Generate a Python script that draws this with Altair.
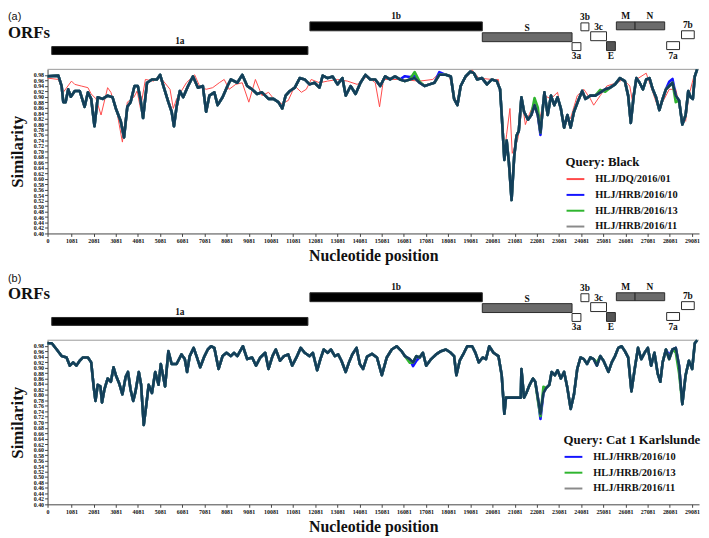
import altair as alt
import pandas as pd

# ---------------- data ----------------
X_MAX = 29400
X_TICKS = [0, 1081, 2081, 3081, 4081, 5081, 6081, 7081, 8081, 9081, 10081, 11081,
           12081, 13081, 14081, 15081, 16081, 17081, 18081, 19081, 20081, 21081,
           22081, 23081, 24081, 25081, 26081, 27081, 28081, 29081]
Y_TICKS = [0.40, 0.42, 0.44, 0.46, 0.48, 0.50, 0.52, 0.54, 0.56, 0.58, 0.60, 0.62,
           0.64, 0.66, 0.68, 0.70, 0.72, 0.74, 0.76, 0.78, 0.80, 0.82, 0.84, 0.86,
           0.88, 0.90, 0.92, 0.94, 0.96, 0.98]

ORF_NAMES = ["1a", "1b", "S", "3a", "3b", "3c", "E", "M", "N", "7a", "7b"]
ORF_START = [190, 11840, 19620, 23670, 24070, 24510, 25225, 25670, 26515, 27940, 28610]
ORF_END = [11750, 19620, 23670, 24070, 24430, 25225, 25625, 26515, 27850, 28520, 29185]

# panel (a) : query Black
A_POS = [0, 488, 636, 710, 814, 933, 1051, 1229, 1451, 1674, 1822, 1970, 2118, 2266, 2489,
         2711, 2933, 3082, 3304, 3452, 3600, 3748, 3926, 4074, 4193, 4311, 4489, 4712, 4934,
         5082, 5230, 5453, 5601, 5705, 5823, 5971, 6120, 6342, 6564, 6787, 7009, 7157, 7305,
         7527, 7676, 7898, 8120, 8269, 8565, 8787, 9010, 9232, 9454, 9676, 9973, 10195, 10417,
         10595, 10744, 10936, 11159, 11381, 11603, 11825, 12048, 12270, 12418, 12640, 12863,
         13085, 13307, 13456, 13678, 13900, 14122, 14345, 14567, 14790, 15013, 15235, 15457,
         15680, 15902, 16124, 16346, 16569, 16791, 17013, 17236, 17458, 17680, 17977, 18199,
         18347, 18496, 18644, 18866, 19088, 19237, 19385, 19607, 19830, 20052, 20274, 20422,
         20496, 20615, 20719, 20822, 20941, 21059, 21163, 21267, 21385, 21504, 21682, 21830,
         21978, 22126, 22245, 22349, 22423, 22571, 22719, 22867, 23016, 23164, 23312, 23460,
         23608, 23757, 23979, 24127, 24275, 24498, 24720, 24942, 25165, 25387, 25609, 25831,
         26054, 26202, 26321, 26454, 26572, 26720, 26869, 27017, 27165, 27313, 27462, 27610,
         27758, 27906, 28054, 28203, 28351, 28499, 28647, 28795, 28914, 29018, 29122, 29210, 29314]
A_HRB11 = [0.975, 0.977, 0.939, 0.880, 0.880, 0.927, 0.900, 0.921, 0.921, 0.863, 0.916, 0.892,
           0.792, 0.898, 0.892, 0.904, 0.898, 0.857, 0.810, 0.751, 0.863, 0.880, 0.939, 0.939,
           0.892, 0.822, 0.951, 0.963, 0.963, 0.980, 0.939, 0.880, 0.845, 0.792, 0.863, 0.921,
           0.898, 0.939, 0.974, 0.933, 0.939, 0.845, 0.904, 0.916, 0.869, 0.898, 0.939, 0.963,
           0.951, 0.980, 0.939, 0.927, 0.910, 0.916, 0.892, 0.892, 0.880, 0.857, 0.904, 0.921,
           0.933, 0.968, 0.963, 0.945, 0.951, 0.933, 0.977, 0.968, 0.974, 0.945, 0.968, 0.904,
           0.939, 0.910, 0.951, 0.980, 0.963, 0.963, 0.939, 0.974, 0.963, 0.974, 0.963, 0.957,
           0.963, 0.968, 0.951, 0.939, 0.945, 0.951, 0.980, 0.980, 0.974, 0.892, 0.869, 0.939,
           0.974, 0.992, 0.986, 0.963, 0.968, 0.945, 0.963, 0.957, 0.927, 0.833, 0.669, 0.740,
           0.657, 0.522, 0.681, 0.757, 0.775, 0.898, 0.845, 0.816, 0.833, 0.869, 0.833, 0.769,
           0.857, 0.916, 0.833, 0.904, 0.869, 0.898, 0.857, 0.787, 0.833, 0.787, 0.845, 0.892,
           0.921, 0.892, 0.904, 0.904, 0.916, 0.927, 0.933, 0.945, 0.968, 0.957, 0.904, 0.804,
           0.904, 0.968, 0.951, 0.927, 0.963, 0.968, 0.927, 0.898, 0.851, 0.892, 0.927, 0.939,
           0.951, 0.904, 0.886, 0.798, 0.833, 0.921, 0.898, 0.892, 0.974, 1.000]
A_HRB10_DIFF = {16124: 0.975, 16346: 0.972, 16569: 0.975, 17680: 0.990, 22245: 0.760,
                28054: 0.955, 28203: 0.965}
A_HRB13_DIFF = {16569: 0.990, 16791: 0.955, 21978: 0.895, 22126: 0.860, 24942: 0.925,
                25165: 0.918, 28351: 0.880}

A_DQ_POS = [0, 488, 710, 1081, 1229, 1525, 1822, 1970, 2192, 2415, 2711, 2859, 3156, 3378,
            3600, 3896, 4045, 4193, 4415, 4786, 5082, 5230, 5527, 5675, 5823, 6268, 6638,
            6861, 7157, 7453, 7750, 7972, 8194, 8491, 8787, 9084, 9380, 9676, 9973, 10269,
            10565, 10862, 11159, 11455, 11677, 11899, 12270, 12640, 13085, 13529, 13974,
            14419, 14790, 14983, 15161, 15902, 16791, 17384, 17680, 18125, 18347, 18496,
            18718, 19162, 19459, 20052, 20348, 20496, 20615, 20719, 20867, 20971, 21089,
            21208, 21311, 21415, 21563, 21756, 21978, 22200, 22423, 22719, 23016, 23312,
            23608, 23905, 24201, 24498, 24646, 24942, 25239, 25683, 25980, 26276, 26424,
            26572, 27017, 27313, 27462, 27610, 27758, 28054, 28351, 28647, 28795, 28943,
            29166, 29314]
A_DQ = [0.968, 0.963, 0.916, 0.957, 0.945, 0.939, 0.933, 0.910, 0.892, 0.833, 0.933, 0.916,
        0.833, 0.734, 0.880, 0.898, 0.921, 0.857, 0.963, 0.957, 0.974, 0.957, 0.927, 0.857,
        0.892, 0.951, 0.980, 0.939, 0.927, 0.933, 0.951, 0.963, 0.927, 0.945, 0.951, 0.880,
        0.963, 0.904, 0.916, 0.886, 0.875, 0.886, 0.939, 0.916, 0.927, 0.963, 0.951, 0.957,
        0.963, 0.957, 0.945, 0.974, 0.951, 0.863, 0.963, 0.963, 0.957, 0.963, 0.986, 0.980,
        0.898, 0.880, 0.951, 0.998, 0.968, 0.963, 0.963, 0.845, 0.693, 0.763, 0.857, 0.693,
        0.716, 0.740, 0.787, 0.880, 0.798, 0.839, 0.880, 0.810, 0.904, 0.892, 0.916, 0.798,
        0.822, 0.904, 0.927, 0.892, 0.869, 0.904, 0.939, 0.951, 0.963, 0.939, 0.869, 0.963,
        0.986, 0.916, 0.880, 0.851, 0.880, 0.927, 0.927, 0.822, 0.810, 0.904, 0.974, 1.000]

# panel (b) : query Cat 1 Karlslunde
B_POS = [0, 192, 414, 636, 858, 1007, 1155, 1303, 1451, 1600, 1822, 1970, 2089, 2163, 2266,
         2385, 2459, 2563, 2711, 2859, 2978, 3082, 3230, 3378, 3526, 3630, 3748, 3867, 3971,
         4119, 4223, 4341, 4460, 4563, 4712, 4860, 5008, 5112, 5305, 5453, 5601, 5823, 6046,
         6194, 6297, 6416, 6594, 6742, 6890, 7083, 7231, 7379, 7527, 7720, 7898, 8076, 8269,
         8417, 8565, 8817, 9010, 9232, 9409, 9602, 9824, 9973, 10151, 10299, 10492, 10669,
         10862, 11040, 11233, 11425, 11603, 11825, 11973, 12166, 12314, 12463, 12640, 12789,
         12966, 13115, 13263, 13456, 13604, 13752, 13945, 14093, 14241, 14419, 14641, 14865,
         15087, 15309, 15532, 15754, 15976, 16124, 16346, 16495, 16643, 16791, 16939, 17088,
         17310, 17532, 17754, 17977, 18199, 18347, 18451, 18600, 18792, 18940, 19162, 19311,
         19459, 19637, 19785, 19933, 20126, 20348, 20496, 20615, 20689, 21356, 21385, 21504,
         21608, 21756, 21904, 22008, 22126, 22245, 22378, 22497, 22645, 22749, 22897, 23016,
         23164, 23312, 23460, 23608, 23757, 23905, 24053, 24201, 24349, 24498, 24646, 24794,
         24942, 25090, 25313, 25461, 25609, 25757, 25906, 26054, 26202, 26350, 26498, 26647,
         26795, 26943, 27091, 27239, 27387, 27536, 27654, 27758, 27906, 28054, 28203, 28351,
         28499, 28647, 28795, 28943, 29092, 29210, 29314]
B_HRB11 = [0.989, 0.989, 0.966, 0.942, 0.937, 0.907, 0.919, 0.907, 0.925, 0.937, 0.937, 0.919,
           0.825, 0.778, 0.837, 0.831, 0.772, 0.819, 0.860, 0.848, 0.901, 0.872, 0.843, 0.802,
           0.866, 0.884, 0.819, 0.778, 0.813, 0.884, 0.837, 0.690, 0.766, 0.837, 0.807, 0.884,
           0.837, 0.913, 0.831, 0.960, 0.913, 0.913, 0.948, 0.931, 0.884, 0.942, 0.972, 0.937,
           0.901, 0.942, 0.966, 0.978, 0.972, 0.895, 0.942, 0.954, 0.942, 0.954, 0.942, 0.978,
           0.931, 0.937, 0.907, 0.937, 0.954, 0.895, 0.942, 0.966, 0.925, 0.942, 0.948, 0.907,
           0.937, 0.972, 0.954, 0.942, 0.954, 0.890, 0.931, 0.966, 0.954, 0.966, 0.942, 0.948,
           0.925, 0.884, 0.919, 0.948, 0.972, 0.913, 0.895, 0.940, 0.950, 0.937, 0.872, 0.937,
           0.966, 0.978, 0.960, 0.942, 0.931, 0.919, 0.942, 0.937, 0.954, 0.907, 0.931, 0.948,
           0.960, 0.966, 0.954, 0.942, 0.872, 0.925, 0.954, 0.978, 0.978, 0.954, 0.919, 0.937,
           0.931, 0.978, 0.954, 0.942, 0.872, 0.731, 0.790, 0.790, 0.895, 0.790, 0.807, 0.837,
           0.860, 0.848, 0.790, 0.731, 0.807, 0.825, 0.837, 0.884, 0.872, 0.890, 0.860, 0.884,
           0.825, 0.749, 0.802, 0.895, 0.937, 0.931, 0.913, 0.937, 0.931, 0.907, 0.942, 0.925,
           0.884, 0.919, 0.942, 0.972, 0.978, 0.960, 0.937, 0.813, 0.895, 0.972, 0.931, 0.954,
           0.972, 0.907, 0.954, 0.878, 0.848, 0.919, 0.966, 0.931, 0.966, 0.972, 0.907, 0.766,
           0.872, 0.925, 0.895, 0.989, 1.000]
B_HRB10_DIFF = {16495: 0.905, 16643: 0.925, 22245: 0.712, 28054: 0.945}
B_HRB13_DIFF = {16346: 0.918, 22126: 0.780, 22245: 0.722, 22378: 0.830, 24794: 0.918,
                28351: 0.955, 28499: 0.880}

# ---------------- styling / layout ----------------
SERIF = "Liberation Serif"
SANS = "Liberation Sans"
W, H, ORF_H = 659, 166, 52
DARK = "#123f5a"
SERIES_COLORS = {"HLJ/DQ/2016/01": "#ff4a4a", "HLJ/HRB/2016/10": "#1414ff",
                 "HLJ/HRB/2016/13": "#2fb52f", "HLJ/HRB/2016/11": "#8a8a8a"}
SERIES_WIDTH = {"HLJ/DQ/2016/01": 1.0, "HLJ/HRB/2016/10": 2.6,
                "HLJ/HRB/2016/13": 2.6, "HLJ/HRB/2016/11": 2.6}
# ORF box rows (px from strip top), fill, label row
ORF_STYLE = {
    "1a": (35, 43, "#000000", 29), "1b": (10, 19, "#000000", 4),
    "S": (21, 30, "#6b6b6b", 16), "3a": (31, 39, "#ffffff", 45),
    "3b": (11, 19, "#ffffff", 5), "3c": (20, 29, "#ffffff", 15),
    "E": (30, 39, "#555555", 45), "M": (10, 18, "#6b6b6b", 4),
    "N": (10, 18, "#6b6b6b", 4), "7a": (30, 38, "#ffffff", 45),
    "7b": (19, 27, "#ffffff", 13),
}


def with_diff(base, pos, diff):
    return [diff.get(p, v) for p, v in zip(pos, base)]


def long_df(series):
    rows = []
    for name, (pos, vals) in series.items():
        for p, v in zip(pos, vals):
            rows.append({"pos": p, "sim": v, "series": name})
    return pd.DataFrame(rows)


def orf_strip(tag, tag_y, orfs_y):
    df = pd.DataFrame({"name": ORF_NAMES, "start": ORF_START, "end": ORF_END})
    df["top"] = [ORF_STYLE[n][0] for n in ORF_NAMES]
    df["bottom"] = [ORF_STYLE[n][1] for n in ORF_NAMES]
    df["fill"] = [ORF_STYLE[n][2] for n in ORF_NAMES]
    df["ly"] = [ORF_STYLE[n][3] for n in ORF_NAMES]
    df["mid"] = (df["start"] + df["end"]) / 2
    xs = alt.Scale(domain=[0, X_MAX], nice=False, zero=False)
    ys = alt.Scale(domain=[ORF_H, 0], nice=False, zero=False)
    rects = alt.Chart(df).mark_rect(stroke="#2b2b2b", strokeWidth=1).encode(
        x=alt.X("start:Q", scale=xs, axis=None), x2="end:Q",
        y=alt.Y("top:Q", scale=ys, axis=None), y2="bottom:Q",
        fill=alt.Fill("fill:N", scale=None))
    labels = alt.Chart(df).mark_text(font=SERIF, fontSize=9.5, fontWeight="bold",
                                     baseline="middle", color="#111").encode(
        x=alt.X("mid:Q", scale=xs, axis=None),
        y=alt.Y("ly:Q", scale=ys, axis=None), text="name:N")
    tdf = pd.DataFrame({"t": [tag], "o": ["ORFs"]})
    tag_t = alt.Chart(tdf).mark_text(font=SANS, fontSize=11, align="left", baseline="middle",
                                     color="#111").encode(
        x=alt.value(-40), y=alt.value(tag_y), text="t:N")
    orf_t = alt.Chart(tdf).mark_text(font=SERIF, fontSize=17, fontWeight="bold", align="left",
                                     baseline="middle", color="#111").encode(
        x=alt.value(-40), y=alt.value(orfs_y), text="o:N")
    return alt.layer(rects, labels, tag_t, orf_t).properties(width=W, height=ORF_H)


def sim_plot(df, names, query, lx, ly):
    x = alt.X("pos:Q", scale=alt.Scale(domain=[0, X_MAX], nice=False, zero=False),
              axis=alt.Axis(values=X_TICKS, format="d", title="Nucleotide position",
                            grid=False,
                            labelFont=SERIF, labelFontSize=6, labelFontWeight="bold",
                            labelColor="#111", labelPadding=1, tickSize=3,
                            labelFlush=False, labelOverlap=False,
                            domainColor="#444", tickColor="#444",
                            titleFont=SERIF, titleFontSize=16, titleFontWeight="bold",
                            titleColor="#111", titlePadding=4))
    y = alt.Y("sim:Q", scale=alt.Scale(domain=[0.40, 1.00], nice=False, zero=False),
              axis=alt.Axis(values=Y_TICKS, format=".2f", title="Similarity", grid=False,
                            labelFont=SERIF, labelFontSize=6, labelFontWeight="bold",
                            labelColor="#111", labelPadding=1, tickSize=3,
                            labelOverlap=False, labelFlush=False,
                            domainColor="#444", tickColor="#444",
                            titleFont=SERIF, titleFontSize=17, titleFontWeight="bold",
                            titleColor="#111", titleX=-30, titleY=H / 2,
                            titleAngle=-90, titleAlign="center", titleBaseline="middle"))
    color = alt.Color("series:N",
                      scale=alt.Scale(domain=names, range=[SERIES_COLORS[n] for n in names]),
                      legend=alt.Legend(title=query, orient="none", legendX=lx, legendY=ly,
                                        direction="vertical", padding=0,
                                        titleFont=SERIF, titleFontSize=13,
                                        titleFontWeight="bold", titleColor="#111",
                                        titlePadding=0, titleLimit=400,
                                        labelFont=SERIF, labelFontSize=10.5,
                                        labelFontWeight="bold", labelColor="#111",
                                        labelOffset=10, labelLimit=400,
                                        symbolType="stroke", symbolSize=324,
                                        symbolStrokeWidth=2, rowPadding=-4.5))
    top = alt.Chart(pd.DataFrame({"sim": [1.0]})).mark_rule(
        color="#9a9a9a", strokeWidth=1).encode(y=y)
    layers = [top]
    for n in names:
        layers.append(alt.Chart(df).transform_filter(alt.datum.series == n).mark_line(
            strokeWidth=SERIES_WIDTH[n], strokeJoin="round").encode(x=x, y=y, color=color))
    layers.append(alt.Chart(df).transform_filter(alt.datum.series == "HLJ/HRB/2016/11")
                  .mark_line(strokeWidth=2.6, color=DARK, strokeJoin="round")
                  .encode(x=x, y=y))
    return alt.layer(*layers).properties(width=W, height=H)


names_a = ["HLJ/DQ/2016/01", "HLJ/HRB/2016/10", "HLJ/HRB/2016/13", "HLJ/HRB/2016/11"]
df_a = long_df({
    "HLJ/DQ/2016/01": (A_DQ_POS, A_DQ),
    "HLJ/HRB/2016/10": (A_POS, with_diff(A_HRB11, A_POS, A_HRB10_DIFF)),
    "HLJ/HRB/2016/13": (A_POS, with_diff(A_HRB11, A_POS, A_HRB13_DIFF)),
    "HLJ/HRB/2016/11": (A_POS, A_HRB11),
})
names_b = ["HLJ/HRB/2016/10", "HLJ/HRB/2016/13", "HLJ/HRB/2016/11"]
df_b = long_df({
    "HLJ/HRB/2016/10": (B_POS, with_diff(B_HRB11, B_POS, B_HRB10_DIFF)),
    "HLJ/HRB/2016/13": (B_POS, with_diff(B_HRB11, B_POS, B_HRB13_DIFF)),
    "HLJ/HRB/2016/11": (B_POS, B_HRB11),
})

# legend positions are relative to each panel's group (top of the panel)
panel_a = alt.vconcat(orf_strip("(a)", 5, 21),
                      sim_plot(df_a, names_a, "Query: Black", 524, 146),
                      spacing=4)
panel_b = alt.vconcat(orf_strip("(b)", -4, 11),
                      sim_plot(df_b, names_b, "Query: Cat 1 Karlslunde", 522, 153),
                      spacing=4)

chart = alt.vconcat(panel_a, panel_b, spacing=10).resolve_scale(
    color="independent"
).resolve_legend(
    color="independent"
).properties(
    padding={"left": 0, "top": 0, "right": 0, "bottom": 0}
).configure_view(stroke=None)

chart.save("out.html", embed_options={"renderer": "svg", "actions": False})
